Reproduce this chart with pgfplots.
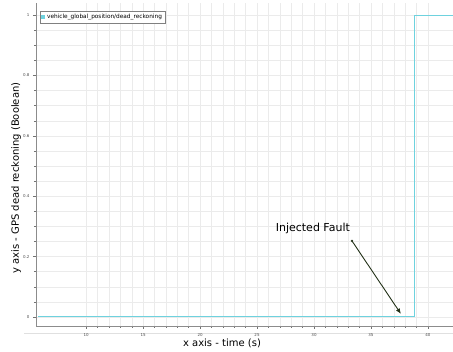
\documentclass[border=0pt]{standalone}
\usepackage{fontspec}
\setmainfont{DejaVu Sans}
\usepackage{pgfplots}
\pgfplotsset{compat=1.18}
\usetikzlibrary{arrows.meta}
\definecolor{sig}{RGB}{110,210,222}
\definecolor{arr}{RGB}{35,50,25}
\begin{document}
\begin{tikzpicture}[x=1pt,y=1pt]
\path[use as bounding box] (0,0) rectangle (453,352);
\draw[black!12, line width=0.8pt] (24,19) -- (453,19);
\begin{axis}[
  at={(36pt,26pt)}, anchor=south west,
  scale only axis, width=417pt, height=323pt,
  xmin=5.6, xmax=42.2, ymin=-0.03, ymax=1.04,
  axis x line*=bottom, axis y line*=left,
  axis line style={black!45, line width=0.6pt},
  xtick={10,15,20,25,30,35,40}, minor x tick num=4,
  ytick={0,0.2,0.4,0.6,0.8,1}, minor y tick num=3,
  yticklabels={0,0.2,0.4,0.6,0.8,1},
  tick align=outside,
  major tick length=3pt, minor tick length=2pt,
  tick style={black!55, line width=0.4pt},
  grid=both,
  major grid style={black!8, line width=0.4pt},
  minor grid style={black!8, line width=0.4pt},
  ticklabel style={font=\fontsize{4}{5}\selectfont, text=black!70},
  /pgf/number format/assume math mode=true,
  xticklabel style={yshift=-1pt},
  xlabel={x axis - time (s)},
  ylabel={y axis - GPS dead reckoning (Boolean)},
  label style={font=\fontsize{10}{12}\selectfont},
  xlabel style={at={(axis description cs:0.446,0)}, anchor=center, yshift=-17pt},
  ylabel style={at={(axis description cs:0,0.458)}, anchor=center, rotate=0, yshift=20pt},
  legend style={at={(axis description cs:0.0096,0.975)}, anchor=north west,
    font=\fontsize{5.8}{6.5}\selectfont, draw=black!50, inner sep=0.8pt,
    row sep=-1pt, line width=0.4pt},
  legend cell align=left,
  clip=true,
]
\addplot[sig, line width=0.9pt, const plot, legend image code/.code={
  \fill[sig] (-1.6pt,-1.6pt) rectangle (1.6pt,1.6pt);}]
  coordinates {(5.8,0) (38.8,0) (38.8,1) (42.2,1)};
\addlegendentry{vehicle\_global\_position/dead\_reckoning}
\draw[arr, line width=0.9pt, -{Latex[length=5.5pt,width=4.5pt]}] (axis cs:33.33,0.252) -- (axis cs:37.63,0.01);
\fill[arr] (axis cs:33.33,0.252) circle (1.2pt);
\node[font=\fontsize{11}{13}\selectfont, anchor=center] at (axis cs:29.9,0.293) {Injected Fault};
\end{axis}
\end{tikzpicture}
\end{document}
